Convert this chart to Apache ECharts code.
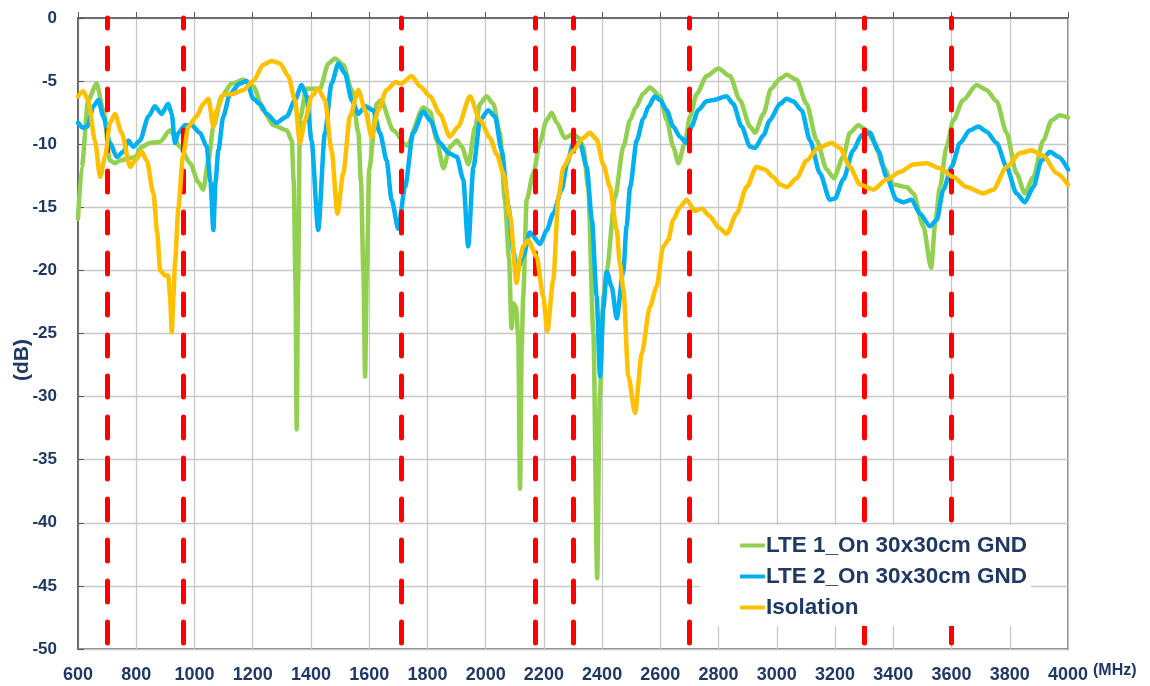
<!DOCTYPE html>
<html>
<head>
<meta charset="utf-8">
<script src="https://cdn.jsdelivr.net/npm/echarts@6/dist/echarts.min.js"></script>
<style>html,body{margin:0;padding:0;background:#fff}#c{width:1150px;height:686px}</style>
</head>
<body>
<div id="c"></div>
<script>
// ---- data (frequency MHz, dB) ----
const seriesNames = ['LTE 1_On 30x30cm GND', 'LTE 2_On 30x30cm GND', 'Isolation'];
const bandEdges = [700, 960, 1710, 2170, 2300, 2700, 3300, 3600];
const xUnit = '(MHz)';
const yUnit = '(dB)';

const lte1 = [[600,-15.9],[613,-11.8],[635,-6.5],[664,-5.2],[687,-7.3],[710,-11.3],[727,-11.5],[744,-11.3],[779,-11.1],[800,-11.0],[813,-10.3],[847,-9.9],[882,-9.8],[916,-8.9],[950,-10.2],[985,-11.5],[1013,-13.0],[1030,-13.6],[1048,-11.3],[1065,-8.6],[1093,-6.2],[1128,-5.2],[1168,-4.9],[1202,-5.4],[1236,-7.3],[1271,-8.5],[1317,-8.9],[1334,-9.7],[1341,-13],[1347,-21],[1351,-32.6],[1356,-21],[1362,-8],[1385,-5.6],[1431,-5.6],[1460,-3.6],[1483,-3.2],[1511,-3.7],[1540,-5.7],[1563,-9.1],[1572,-13],[1580,-20],[1586,-28.4],[1592,-20],[1600,-12],[1626,-6.8],[1640,-6.5],[1683,-8.9],[1729,-10.1],[1786,-7.1],[1809,-7.4],[1832,-9.7],[1855,-11.9],[1878,-10.2],[1901,-9.7],[1918,-10.2],[1941,-11.6],[1964,-8.6],[1981,-6.8],[2003,-6.2],[2026,-6.8],[2049,-9.1],[2066,-14.4],[2080,-19],[2089,-24.6],[2095,-22.6],[2104,-22.9],[2112,-25.3],[2118,-37.3],[2124,-26],[2129,-22],[2141,-14.4],[2164,-12.3],[2186,-9.9],[2209,-8.1],[2227,-7.5],[2244,-8.3],[2272,-9.5],[2301,-9.2],[2320,-9.5],[2335,-10.2],[2352,-13.4],[2370,-25],[2383,-44.4],[2392,-30],[2405,-22],[2416,-20],[2444,-14.2],[2473,-10.2],[2496,-8.1],[2515,-7.1],[2541,-6.0],[2564,-5.5],[2599,-6.2],[2622,-8.1],[2644,-10.2],[2662,-11.5],[2684,-9.9],[2702,-7.8],[2725,-6.0],[2759,-4.6],[2799,-4.0],[2839,-4.6],[2873,-6.5],[2908,-8.6],[2925,-9.1],[2954,-7.6],[2980,-5.6],[3011,-4.8],[3034,-4.5],[3068,-4.9],[3102,-6.8],[3137,-9.7],[3171,-12.0],[3196,-12.7],[3228,-11.0],[3251,-9.1],[3280,-8.5],[3308,-8.9],[3337,-9.9],[3366,-11.8],[3400,-13.2],[3446,-13.4],[3469,-13.9],[3503,-16.5],[3530,-19.8],[3545,-16],[3560,-13.4],[3583,-10.2],[3606,-8.1],[3640,-6.5],[3686,-5.3],[3720,-5.7],[3755,-6.6],[3789,-9.1],[3823,-12.3],[3852,-13.9],[3881,-12.6],[3915,-9.7],[3944,-8.1],[3972,-7.7],[4000,-7.9]];

const lte2 = [[600,-8.3],[618,-8.7],[632,-8.6],[653,-7.0],[670,-6.5],[687,-7.8],[710,-9.9],[733,-11.0],[756,-10.6],[773,-9.7],[790,-10.2],[813,-9.7],[842,-7.8],[864,-7.0],[887,-7.6],[910,-6.8],[922,-7.6],[933,-9.9],[945,-9.1],[967,-8.5],[990,-8.5],[1019,-9.1],[1042,-10.2],[1055,-13],[1065,-16.8],[1072,-13],[1082,-10.5],[1099,-7.8],[1122,-6.0],[1156,-5.2],[1179,-5.0],[1202,-6.4],[1225,-6.8],[1248,-7.6],[1282,-8.3],[1317,-7.8],[1345,-6.5],[1368,-5.3],[1385,-6.2],[1402,-9.7],[1425,-16.8],[1448,-9.1],[1471,-5.2],[1494,-3.6],[1517,-4.4],[1540,-6.5],[1563,-7.6],[1586,-7.0],[1614,-7.3],[1637,-9.1],[1660,-11.3],[1677,-14.4],[1700,-16.7],[1723,-13.4],[1751,-9.1],[1786,-7.4],[1809,-8.1],[1843,-9.9],[1872,-10.7],[1901,-11.0],[1923,-12.8],[1940,-18.1],[1958,-11.8],[1981,-8.1],[2009,-7.3],[2032,-7.8],[2055,-10.5],[2078,-14.9],[2095,-18.5],[2107,-20.0],[2129,-18.9],[2152,-17.0],[2187,-17.9],[2210,-16.8],[2232,-15.5],[2261,-13.6],[2280,-11.5],[2301,-9.9],[2324,-9.9],[2347,-11.8],[2365,-16],[2381,-22],[2393,-28.4],[2404,-23],[2416,-20.1],[2433,-21.3],[2450,-23.8],[2473,-20],[2484,-16.5],[2496,-13.4],[2519,-9.7],[2541,-8.0],[2560,-7.0],[2581,-6.2],[2599,-6.5],[2622,-7.3],[2644,-8.6],[2667,-9.4],[2690,-9.9],[2707,-8.6],[2730,-7.3],[2759,-6.6],[2782,-6.5],[2827,-6.2],[2850,-6.8],[2879,-8.6],[2908,-10.2],[2925,-10.3],[2954,-9.3],[2976,-8.1],[3011,-6.8],[3034,-6.4],[3056,-6.6],[3085,-7.3],[3114,-9.7],[3148,-12.3],[3182,-14.4],[3200,-14.3],[3228,-12.8],[3262,-10.5],[3291,-9.3],[3320,-9.1],[3348,-10.5],[3377,-12.6],[3411,-14.4],[3434,-14.6],[3463,-14.4],[3491,-15.5],[3526,-16.5],[3549,-16.0],[3572,-13.6],[3600,-11.8],[3629,-9.9],[3663,-8.9],[3692,-8.6],[3720,-9.0],[3755,-9.9],[3789,-11.8],[3823,-13.9],[3852,-14.6],[3881,-13.4],[3909,-11.3],[3938,-10.6],[3967,-11.0],[4000,-12.0]];

const isolation = [[600,-6.2],[618,-5.8],[635,-6.5],[658,-9.7],[676,-12.6],[693,-11.0],[710,-8.3],[727,-7.6],[750,-9.1],[779,-11.8],[796,-11.3],[819,-10.6],[836,-11.3],[859,-13.9],[872,-17],[882,-20.0],[899,-20.4],[910,-20.4],[916,-22],[922,-24.9],[928,-22],[933,-19.4],[945,-15.0],[960,-11.0],[979,-8.6],[1007,-7.8],[1030,-6.8],[1048,-6.4],[1065,-8.6],[1076,-7.3],[1099,-6.1],[1134,-6.0],[1168,-5.7],[1202,-5.0],[1236,-3.7],[1265,-3.4],[1294,-3.6],[1322,-4.6],[1345,-6.5],[1362,-9.9],[1380,-8.1],[1402,-6.2],[1425,-5.6],[1448,-6.5],[1471,-10.5],[1491,-15.5],[1511,-12.3],[1534,-7.8],[1563,-5.7],[1586,-7.3],[1608,-9.4],[1631,-7.3],[1660,-5.7],[1690,-5.1],[1710,-5.2],[1746,-4.6],[1774,-5.4],[1809,-6.2],[1843,-7.6],[1877,-9.4],[1906,-8.6],[1946,-6.2],[1981,-8.1],[2015,-9.5],[2038,-10.8],[2061,-12.3],[2084,-15.7],[2106,-21.0],[2118,-19.0],[2129,-18.1],[2146,-17.6],[2175,-18.9],[2198,-22.1],[2212,-24.8],[2232,-20.8],[2250,-14.2],[2267,-11.8],[2301,-10.5],[2335,-9.5],[2358,-9.1],[2381,-9.6],[2404,-11.6],[2427,-13.4],[2450,-16.8],[2461,-19.4],[2473,-21.5],[2490,-28.4],[2513,-31.3],[2536,-26.6],[2564,-22.9],[2587,-21.3],[2610,-18.1],[2627,-17.6],[2644,-16.0],[2667,-15.0],[2690,-14.4],[2719,-15.3],[2742,-15.1],[2770,-15.7],[2800,-16.6],[2828,-17.1],[2862,-15.5],[2896,-13.4],[2930,-11.8],[2959,-12.0],[2988,-12.6],[3011,-13.2],[3034,-13.4],[3068,-12.7],[3102,-11.3],[3142,-10.3],[3188,-9.9],[3217,-10.3],[3251,-11.8],[3285,-13.2],[3331,-13.6],[3377,-12.8],[3423,-12.2],[3469,-11.6],[3514,-11.5],[3560,-11.9],[3606,-12.6],[3652,-13.4],[3709,-13.9],[3743,-13.6],[3789,-11.8],[3835,-10.7],[3875,-10.5],[3915,-10.9],[3961,-12.3],[4000,-13.2]];

const colors = ['#92D050', '#00B0F0', '#FFC000'];
const txt = '#1F3864';
const font = 'Liberation Sans, Arial, sans-serif';

const chart = echarts.init(document.getElementById('c'), null, {renderer: 'canvas'});
const lineSeries = [lte1, lte2, isolation].map((d, i) => ({
  name: seriesNames[i], type: 'line', data: d, showSymbol: false, symbol: 'none',
  smooth: 0.25, smoothMonotone: 'x',
  lineStyle: {color: colors[i], width: 4.5, cap: 'round', join: 'round'},
  itemStyle: {color: colors[i]}, z: 3 + i, animation: false
}));
lineSeries.push({
  name: 'bands', type: 'line', data: [], z: 10, silent: true, animation: false,
  markLine: {
    silent: true, symbol: 'none', animation: false, label: {show: false},
    lineStyle: {color: '#FF0000', width: 5, type: [21, 20], dashOffset: 35, cap: 'round'},
    data: bandEdges.map(v => ({xAxis: v}))
  }
});

chart.setOption({
  backgroundColor: '#fff',
  animation: false,
  textStyle: {fontFamily: font},
  grid: {left: 78, right: 82, top: 18, bottom: 37, show: true, borderColor: '#595959', borderWidth: 1.5},
  legend: {
    data: seriesNames, orient: 'vertical', left: 700, top: 525, padding: [8, 4, 6, 40], itemGap: 6,
    backgroundColor: '#ffffff', z: 20,
    itemWidth: 25, itemHeight: 4, icon: 'roundRect',
    textStyle: {color: txt, fontSize: 22.5, fontWeight: 'bold', fontFamily: font, lineHeight: 25, padding: [0,0,0,-4]}
  },
  graphic: [
    {type: 'text', left: 1093, top: 663, silent: true,
     style: {text: xUnit, fill: txt, font: 'bold 16px Liberation Sans, Arial, sans-serif'}},
    {type: 'text', x: 22, y: 360, rotation: Math.PI / 2, silent: true,
     style: {text: yUnit, fill: txt, font: 'bold 21px Liberation Sans, Arial, sans-serif', align: 'center', verticalAlign: 'middle'}}
  ],
  xAxis: {
    type: 'value', min: 600, max: 4000, interval: 200,
    axisLine: {lineStyle: {color: '#595959', width: 1.5}},
    axisTick: {show: true, inside: true, length: 6, lineStyle: {color: '#595959'}},
    axisLabel: {color: txt, fontSize: 18, fontWeight: 'bold', fontFamily: font, margin: 17, formatter: v => String(v)},
    splitLine: {show: true, lineStyle: {color: '#c8c8c8', width: 1.3}}
  },
  yAxis: {
    type: 'value', min: -50, max: 0, interval: 5,
    axisLine: {show: true, lineStyle: {color: '#595959', width: 1.5}},
    axisTick: {show: true, inside: true, length: 6, lineStyle: {color: '#595959'}},
    axisLabel: {color: txt, fontSize: 17, fontWeight: 'bold', fontFamily: font, margin: 21},
    splitLine: {show: true, lineStyle: {color: '#c8c8c8', width: 1.3}}
  },
  series: lineSeries
});
</script>
</body>
</html>
